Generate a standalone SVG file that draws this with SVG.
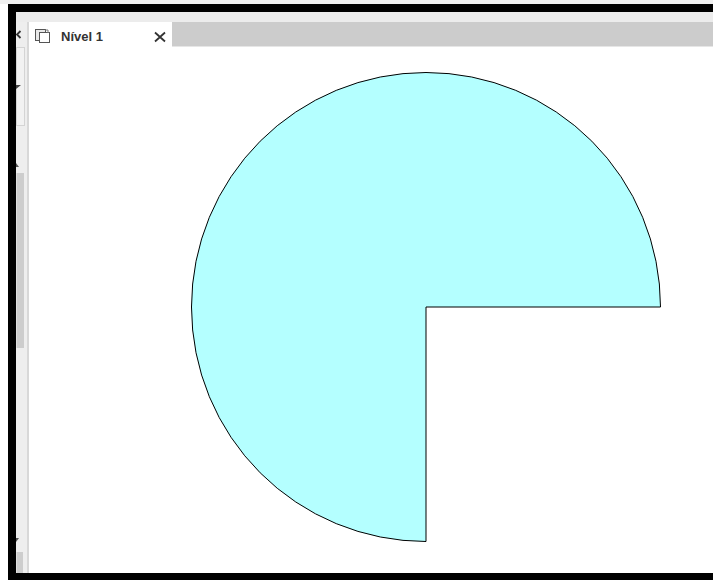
<svg xmlns="http://www.w3.org/2000/svg" width="713" height="580" viewBox="0 0 713 580">
  <style>
    .dark { fill: #000000; }
    .tabtext { font-family: "Liberation Sans", Arial, sans-serif; font-weight: bold; font-size: 13px; fill: #333333; }
    .xmark { stroke: #333333; stroke-width: 1.8; fill: none; }
  </style>
  <!-- background -->
  <rect x="0" y="0" width="713" height="580" fill="#ffffff"/>
  <rect x="0" y="0" width="713" height="4" fill="#f0f0f0"/>
  <!-- top frame band -->
  <rect x="8" y="4" width="705" height="8" class="dark"/>
  <rect x="16" y="12" width="697" height="10" fill="#ececec"/>
  <rect x="16" y="22" width="697" height="24" fill="#cccccc"/>
  <rect x="16" y="46" width="697" height="1" fill="#e6e6e6"/>
  <!-- left frame -->
  <rect x="8" y="4" width="8" height="576" class="dark"/>
  <!-- left panel -->
  <rect x="16" y="22" width="11" height="551" fill="#eeeeee"/>
  <rect x="27" y="22" width="2" height="551" fill="#d8d8d8"/>
  <rect x="16.5" y="47.5" width="8" height="78" fill="#f2f2f2" stroke="#d4d4d4" stroke-width="1"/>
  <path d="M16,85 L21,85 L16,89 Z" fill="#444444"/>
  <path d="M16,163 L19,167 L16,167 Z" fill="#555555"/>
  <rect x="16.5" y="173" width="7.5" height="175" fill="#cdcdcd"/>
  <path d="M16,538 L19,538 L16,542 Z" fill="#555555"/>
  <rect x="16.5" y="552" width="6.5" height="21" fill="#cdcdcd"/>
  <!-- partial previous tab close mark -->
  <path d="M20.5,31 L17,34.5 L20.5,38" class="xmark"/>
  <!-- active tab -->
  <g id="tab">
    <rect x="29" y="22" width="143" height="25" fill="#ffffff"/>
    <g id="tab-icon" fill="#ffffff" stroke="#555555" stroke-width="1">
      <rect x="35.5" y="29.5" width="10" height="11" fill="#e8e8e8"/>
      <rect x="39.5" y="32.5" width="10" height="10"/>
      <path d="M45,30 L48,30 L48,33" fill="none" stroke="#777777"/>
    </g>
    <text x="61" y="41" class="tabtext">Nível 1</text>
    <path d="M155,32.5 L165,41.5 M165,32.5 L155,41.5" class="xmark"/>
  </g>
  <!-- bottom frame -->
  <rect x="8" y="573" width="705" height="7" class="dark"/>
  <!-- pie shape -->
  <g id="pie">
    <path d="M426,307 L660.5,307 A234.5,234.5 0 1 0 426,541.5 Z" fill="#b4ffff" stroke="#000000" stroke-width="1"/>
  </g>
</svg>
